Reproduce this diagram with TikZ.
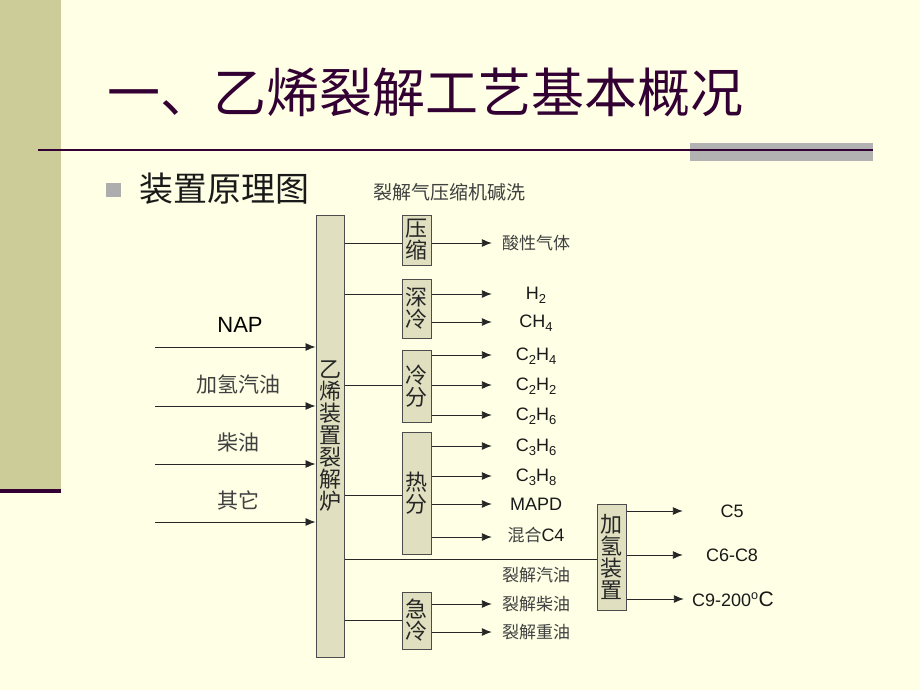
\documentclass[tikz,border=0pt]{standalone}
\usepackage{fontspec}
\setmainfont{Liberation Sans}
\newfontfamily\cjk{Noto Sans CJK SC}
\usetikzlibrary{arrows.meta}

\definecolor{paper}{HTML}{FFFFE5}
\definecolor{olive}{HTML}{CCCC99}
\definecolor{plum}{HTML}{330033}
\definecolor{unitfill}{HTML}{E0E0C0}
\definecolor{bargray}{HTML}{B2B2B2}
\newcommand{\fsz}[1]{\fontsize{#1}{#1}\selectfont}
\newcommand{\lowidx}[1]{\raisebox{-4pt}{\fsz{13}#1}}

\begin{document}
\begin{tikzpicture}[x=1pt, y=-1pt,
    unit/.style={draw=black!70, line width=1pt, fill=unitfill, inner sep=0pt, minimum width=29pt,
      font=\cjk\fsz{22}, align=center, text=black!85},
    flow/.style={-{Latex[length=10pt,width=8pt]}, line width=0.9pt, black!85},
    pipe/.style={line width=0.9pt, black!85},
    prod/.style={minimum width=88pt, inner sep=0pt, font=\fsz{18}, text=black!90},
    cprod/.style={prod, font=\cjk\fsz{17}, text=black!75},
    hprod/.style={prod, minimum width=98pt},
    feed/.style={font=\cjk\fsz{21}, text=black!75}]

	% slide background
	\fill[paper] (0,0) rectangle (920,690);
	\useasboundingbox (0,0) rectangle (920,690);
	\fill[olive] (0,0) rectangle (61,489);
	\fill[plum] (0,489) rectangle (61,493);
	\fill[bargray] (690,143) rectangle (873,161);
	\draw[plum, line width=2pt] (38,150) -- (873,150);

	\node[font=\cjk\fsz{53}, text=plum] (title) at (425,92) {一、乙烯裂解工艺基本概况};
	\fill[black!32] (106,183) rectangle (121,197);
	\node[font=\cjk\fsz{34}, text=black!90] (subtitle) at (224,189) {装置原理图};
	\node[font=\cjk\fsz{19}, text=black!75] (gasline) at (449,192) {裂解气压缩机碱洗};

	% furnace and units
	\node[unit, minimum width=28pt, minimum height=442pt] (furnace) at (330,436)
		{乙\\烯\\装\\置\\裂\\解\\炉};
	\node[unit, minimum height=50pt] (yasuo) at (416.5,240) {压\\缩};
	\node[unit, minimum height=59pt] (shenleng) at (416.5,308.5) {深\\冷};
	\node[unit, minimum height=72pt] (lengfen) at (416.5,386) {冷\\分};
	\node[unit, minimum height=122pt] (refen) at (416.5,493) {热\\分};
	\node[unit, minimum height=57pt] (jileng) at (416.5,620.5) {急\\冷};
	\node[unit, minimum height=106pt] (jiaqing) at (611.5,557) {加\\氢\\装\\置};

	% feeds
	\node[font=\fsz{22}] (nap) at (240,325) {NAP};
	\node[feed] (hgas) at (238,384) {加氢汽油};
	\node[feed] (diesel) at (238,443) {柴油};
	\node[feed] (other) at (238,500) {其它};
	\coordinate (in1) at (155,347);
	\coordinate (in2) at (155,406);
	\coordinate (in3) at (155,464);
	\coordinate (in4) at (155,522);
	\draw[flow] (in1) -- (furnace.west |- in1);
	\draw[flow] (in2) -- (furnace.west |- in2);
	\draw[flow] (in3) -- (furnace.west |- in3);
	\draw[flow] (in4) -- (furnace.west |- in4);

	% furnace to units
	\draw[pipe] (furnace.east |- 0,243) -- (yasuo.west |- 0,243);
	\draw[pipe] (furnace.east |- 0,294) -- (shenleng.west |- 0,294);
	\draw[pipe] (furnace.east |- 0,385) -- (lengfen.west |- 0,385);
	\draw[pipe] (furnace.east |- 0,495) -- (refen.west |- 0,495);
	\draw[pipe] (furnace.east |- 0,559) -- (jiaqing.west |- 0,559);
	\draw[pipe] (furnace.east |- 0,620) -- (jileng.west |- 0,620);

	% products
	\node[cprod] (sour) at (536,243) {酸性气体};
	\node[prod] (h2) at (536,295) {H\lowidx{2}};
	\node[prod] (ch4) at (536,323) {CH\lowidx{4}};
	\node[prod] (c2h4) at (536,356) {C\lowidx{2}H\lowidx{4}};
	\node[prod] (c2h2) at (536,386) {C\lowidx{2}H\lowidx{2}};
	\node[prod] (c2h6) at (536,416) {C\lowidx{2}H\lowidx{6}};
	\node[prod] (c3h6) at (536,447) {C\lowidx{3}H\lowidx{6}};
	\node[prod] (c3h8) at (536,477) {C\lowidx{3}H\lowidx{8}};
	\node[prod] (mapd) at (536,504) {MAPD};
	\node[prod] (c4) at (536,535) {{\cjk\fsz{17}\color{black!75}混合}C4};
	\node[cprod] (pgas) at (536,575) {裂解汽油};
	\node[cprod] (pdiesel) at (536,604) {裂解柴油};
	\node[cprod] (pheavy) at (536,632) {裂解重油};

	\draw[flow] (yasuo.east |- sour) -- (sour.west);
	\draw[flow] (shenleng.east |- 0,294) -- (h2.west |- 0,294);
	\draw[flow] (shenleng.east |- 0,322) -- (ch4.west |- 0,322);
	\draw[flow] (lengfen.east |- 0,355) -- (c2h4.west |- 0,355);
	\draw[flow] (lengfen.east |- 0,385) -- (c2h2.west |- 0,385);
	\draw[flow] (lengfen.east |- 0,415) -- (c2h6.west |- 0,415);
	\draw[flow] (refen.east |- 0,446) -- (c3h6.west |- 0,446);
	\draw[flow] (refen.east |- 0,476) -- (c3h8.west |- 0,476);
	\draw[flow] (refen.east |- mapd) -- (mapd.west);
	\draw[flow] (refen.east |- 0,537) -- (c4.west |- 0,537);
	\draw[flow] (jileng.east |- pdiesel) -- (pdiesel.west);
	\draw[flow] (jileng.east |- pheavy) -- (pheavy.west);

	% hydrogenation outputs
	\node[hprod] (c5) at (732,511) {C5};
	\node[hprod] (c6c8) at (732,555) {C6-C8};
	\node[hprod] (c9) at (733,599) {C9-200\textsuperscript{o}{\fsz{21}C}};
	\draw[flow] (jiaqing.east |- c5) -- (c5.west);
	\draw[flow] (jiaqing.east |- c6c8) -- (c6c8.west);
	\draw[flow] (jiaqing.east |- c9) -- (c9.west);

\end{tikzpicture}
\end{document}
